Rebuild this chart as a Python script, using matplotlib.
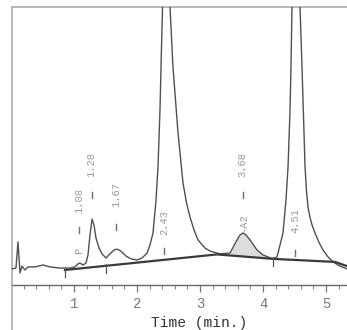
import matplotlib
matplotlib.use("Agg")
import matplotlib.pyplot as plt
import numpy as np
from matplotlib.lines import Line2D

# Chromatogram trace (time in min, signal in arbitrary units)
trace_t = [0.016, 0.079, 0.111, 0.143, 0.175, 0.222, 0.270, 0.381, 0.508, 0.619,
           0.778, 0.937, 1.016, 1.063, 1.095, 1.143, 1.190, 1.222, 1.254, 1.286,
           1.317, 1.349, 1.397, 1.444, 1.508, 1.571, 1.635, 1.683, 1.746, 1.825,
           1.905, 2.000, 2.079, 2.159, 2.206, 2.254, 2.302, 2.333, 2.365, 2.381,
           2.405, 2.460, 2.524, 2.571, 2.651, 2.730, 2.786, 2.841, 2.905, 2.968,
           3.079, 3.159, 3.317, 3.476, 3.587, 3.635, 3.683, 3.730, 3.794, 3.905,
           4.000, 4.079, 4.159, 4.222, 4.270, 4.317, 4.365, 4.397, 4.429, 4.444,
           4.460, 4.524, 4.587, 4.619, 4.667, 4.690, 4.714, 4.746, 4.778, 4.825,
           4.889, 4.952, 5.032, 5.111, 5.222, 5.333]
trace_v = [5.8, 6.1, 15.5, 4.3, 6.8, 5.4, 6.5, 6.5, 7.2, 6.5,
           6.1, 6.1, 6.5, 7.6, 7.9, 7.2, 7.9, 10.8, 18.0, 23.7,
           21.6, 16.9, 13.3, 11.2, 9.7, 11.2, 12.6, 12.9, 12.2, 10.4,
           9.4, 9.0, 9.7, 11.5, 14.4, 18.7, 30.6, 42.4, 63.0, 78.4,
           100.0, 140.0, 100.0, 78.4, 54.7, 36.7, 29.5, 24.5, 19.8, 16.2,
           13.3, 12.2, 11.2, 11.5, 16.2, 18.0, 18.7, 18.0, 16.2, 12.6,
           10.8, 10.1, 9.4, 10.1, 14.4, 18.7, 30.6, 42.4, 63.0, 78.4,
           100.0, 140.0, 100.0, 78.4, 42.4, 33.8, 28.1, 24.3, 21.6, 18.7,
           15.3, 12.6, 10.1, 8.3, 6.8, 5.8]

# Integration baseline
base_t = [0.857, 3.27, 4.159, 5.143, 5.333]
base_v = [5.4, 11.0, 9.4, 8.3, 6.8]

# Integration event markers
event_t = [0.857, 1.508, 4.159]

# Peak annotations
peak_rt = [1.08, 1.28, 1.67, 2.43, 3.68, 4.51]
peak_text = ["1.08", "1.28", "1.67", "2.43", "3.68", "4.51"]
peak_text_v = [25.9, 38.8, 28.1, 18.0, 38.8, 18.7]
peak_mark_v = [19.8, 32.4, 20.9, 12.2, 32.4, 11.5]
peak_name = ["P", "", "", "", "-A2", ""]
peak_name_v = [11.0, 0, 0, 0, 19.1, 0]

# Shaded peak range (A2)
shade_range = (3.46, 4.16)

W, H = 347, 330
fig = plt.figure(figsize=(W / 100, H / 100), dpi=100)
ax = fig.add_axes([12 / W, (H - 285) / H, (W - 12) / W, 278 / H])

mono = "Liberation Mono"
line_col = "#505050"

ax.plot(trace_t, trace_v, color=line_col, lw=1.0, zorder=3, clip_on=True)
ax.plot(base_t, base_v, color="#3a3a3a", lw=1.6, zorder=4)

# shading between trace and baseline for A2
tt = np.array(trace_t)
vv = np.array(trace_v)
mask = (tt >= shade_range[0]) & (tt <= shade_range[1])
st = tt[mask]
sv = vv[mask]
sb = np.interp(st, base_t, base_v)
ax.fill_between(st, sb, sv, color="#dddddd", lw=0, zorder=2)

# event markers
for et in event_t:
    bv = np.interp(et, base_t, base_v)
    ax.plot([et, et], [bv - 2.5, bv + 0.5], color="#555555", lw=0.9, zorder=4)

lab_col = "#9a9a9a"
for rt, txt, tv, mv, nm, nv in zip(peak_rt, peak_text, peak_text_v, peak_mark_v,
                                  peak_name, peak_name_v):
    ax.text(rt, tv, txt, rotation=90, ha="center", va="bottom",
            fontsize=7.5, family=mono, color=lab_col, zorder=5)
    ax.plot([rt, rt], [mv - 1.0, mv + 1.0], color="#707070", lw=1.0, zorder=5)
    if nm:
        ax.text(rt, nv, nm, rotation=90, ha="center", va="bottom",
                fontsize=7.5, family=mono, color=lab_col, zorder=5)

ax.set_xlim(0.016, 5.333)
ax.set_ylim(0, 100)
ax.set_yticks([])
ax.set_xticks([1, 2, 3, 4, 5])
ax.set_xticks(np.arange(0.2, 5.3, 0.2), minor=True)
ax.tick_params(axis="x", which="major", direction="out", length=5, width=0.9,
               color="#777777", labelcolor="#777777", labelsize=10, pad=4)
ax.tick_params(axis="x", which="minor", direction="out", length=3, width=0.8,
               color="#888888")
for lbl in ax.get_xticklabels():
    lbl.set_family(mono)

ax.spines["right"].set_visible(False)
ax.spines["top"].set_color("#aaaaaa")
ax.spines["left"].set_color("#aaaaaa")
ax.spines["top"].set_linewidth(1.2)
ax.spines["left"].set_linewidth(1.2)
ax.spines["bottom"].set_color("#666666")
ax.spines["bottom"].set_linewidth(1.0)

ax.set_xlabel("Time (min.)", family=mono, fontsize=10.5, color="#333333", va="center")
ax.xaxis.set_label_coords((199 - 12) / (W - 12), (285 - 323) / 278)

# left frame line continues to the bottom of the figure
fig.add_artist(Line2D([12 / W, 12 / W], [0, (H - 285) / H], color="#aaaaaa",
                      lw=1.2, transform=fig.transFigure))

fig.savefig("out.png", dpi=100, facecolor="white")
